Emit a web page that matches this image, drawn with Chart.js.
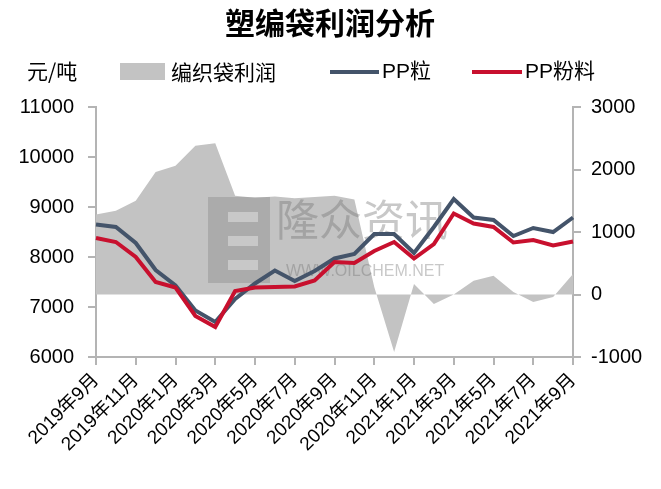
<!DOCTYPE html>
<html>
<head>
<meta charset="utf-8">
<script src="https://cdn.jsdelivr.net/npm/chart.js@4.4.0/dist/chart.umd.min.js"></script>
<style>
  html, body { margin: 0; padding: 0; background: #ffffff; }
  #box { width: 661px; height: 489px; }
</style>
</head>
<body>
<div id="box"><canvas id="chart" width="661" height="489"></canvas></div>
<script>
// Monthly categories, 2019-09 .. 2021-09
const months = [
  '2019年9月', '2019年10月', '2019年11月', '2019年12月',
  '2020年1月', '2020年2月', '2020年3月', '2020年4月',
  '2020年5月', '2020年6月', '2020年7月', '2020年8月',
  '2020年9月', '2020年10月', '2020年11月', '2020年12月',
  '2021年1月', '2021年2月', '2021年3月', '2021年4月',
  '2021年5月', '2021年6月', '2021年7月', '2021年8月',
  '2021年9月'
];

// 编织袋利润 (right axis, 元/吨)
const bagProfit = [
  1280, 1340, 1500, 1960, 2060, 2380, 2420, 1580,
  1550, 1570, 1540, 1560, 1580, 1520, 120, -920,
  170, -150, 0, 220, 300, 40, -120, -40,
  330
];

// PP粒 price (left axis, 元/吨)
const ppPellet = [
  8650, 8600, 8280, 7740, 7430, 6930, 6700, 7160,
  7470, 7730, 7520, 7720, 7970, 8060, 8460, 8460,
  8080, 8600, 9160, 8790, 8740, 8420, 8580, 8500,
  8790
];

// PP粉料 price (left axis, 元/吨)
const ppPowder = [
  8380, 8300, 8000, 7500, 7390, 6820, 6600, 7320,
  7390, 7400, 7410, 7530, 7900, 7880, 8120, 8300,
  7970, 8260, 8870, 8670, 8600, 8290, 8340, 8230,
  8310
];

// Axis ranges
const leftTicks = [6000, 7000, 8000, 9000, 10000, 11000];
const rightTicks = [-1000, 0, 1000, 2000, 3000];

const titleText = '塑编袋利润分析';
const unitText = '元/吨';

const CJK = "'Noto Sans CJK SC', sans-serif";
const NUM = "'Liberation Sans', 'Noto Sans CJK SC', sans-serif";
const AXIS_GREY = '#b4b4b4';

// Header: title, unit and legend row
const headerPlugin = {
  id: 'header',
  afterDraw(chart) {
    const ctx = chart.ctx;
    ctx.save();
    ctx.fillStyle = '#000';
    ctx.textBaseline = 'middle';
    ctx.textAlign = 'center';
    ctx.font = "bold 30px " + CJK;
    ctx.fillText(titleText, 330, 23);

    ctx.textAlign = 'left';
    ctx.font = "21px " + CJK;
    ctx.fillText(unitText, 27, 71);

    const ds = chart.data.datasets;
    const y = 72;
    // area swatch
    ctx.fillStyle = ds[0].backgroundColor;
    ctx.fillRect(120, 63, 45, 17);
    ctx.fillStyle = '#000';
    ctx.fillText(ds[0].label, 171, y);
    // line swatches
    const items = [[1, 330, 379, 382], [2, 472, 522, 525]];
    for (const [i, x0, x1, tx] of items) {
      ctx.strokeStyle = ds[i].borderColor;
      ctx.lineWidth = 4;
      ctx.beginPath();
      ctx.moveTo(x0, y);
      ctx.lineTo(x1, y);
      ctx.stroke();
      ctx.fillStyle = '#000';
      ctx.font = "21px " + NUM;
      ctx.fillText(ds[i].label, tx, y);
    }
    ctx.restore();
  }
};

// Faint publisher mark, painted over the area fill but under the price lines
const markPlugin = {
  id: 'mark',
  afterDatasetDraw(chart, args) {
    if (args.index !== 0) return;
    const ctx = chart.ctx;
    ctx.save();
    ctx.fillStyle = 'rgba(110,110,110,0.28)';
    ctx.fillRect(208, 197, 62, 86);
    ctx.fillStyle = 'rgba(255,255,255,0.35)';
    ctx.fillRect(228, 212, 30, 10);
    ctx.fillRect(228, 236, 30, 10);
    ctx.fillRect(228, 260, 30, 10);
    ctx.fillStyle = 'rgba(110,110,110,0.38)';
    ctx.textBaseline = 'middle';
    ctx.textAlign = 'left';
    ctx.font = "43px " + CJK;
    ctx.fillText('隆众资讯', 276, 220);
    ctx.font = "16px 'Liberation Sans Narrow', 'Liberation Sans', sans-serif";
    ctx.fillText('WWW.OILCHEM.NET', 286, 272);
    ctx.restore();
  }
};

const plainNumber = v => String(v);

new Chart(document.getElementById('chart'), {
  type: 'line',
  data: {
    labels: months,
    datasets: [
      {
        label: '编织袋利润',
        data: bagProfit,
        yAxisID: 'y1',
        backgroundColor: '#c3c3c3',
        borderWidth: 0,
        fill: 'origin',
        pointRadius: 0,
        tension: 0,
        order: 3
      },
      {
        label: 'PP粒',
        data: ppPellet,
        yAxisID: 'y',
        borderColor: '#44546a',
        borderWidth: 4,
        fill: false,
        pointRadius: 0,
        tension: 0,
        order: 2
      },
      {
        label: 'PP粉料',
        data: ppPowder,
        yAxisID: 'y',
        borderColor: '#c8102e',
        borderWidth: 4,
        fill: false,
        pointRadius: 0,
        tension: 0,
        order: 1
      }
    ]
  },
  options: {
    responsive: false,
    animation: false,
    devicePixelRatio: 1,
    layout: { padding: { top: 107, left: 0, right: 0, bottom: 0 } },
    plugins: {
      legend: { display: false },
      title: { display: false },
      tooltip: { enabled: false }
    },
    scales: {
      x: {
        type: 'category',
        offset: false,
        afterBuildTicks(scale) {
          scale.ticks = scale.ticks.filter((t, i) => i % 2 === 0);
        },
        afterFit(scale) { scale.height = 132; },
        grid: {
          drawOnChartArea: false,
          drawTicks: true,
          tickLength: 8,
          color: AXIS_GREY,
          lineWidth: 2
        },
        border: { display: true, color: AXIS_GREY, width: 2 },
        ticks: {
          autoSkip: false,
          maxRotation: 45,
          minRotation: 45,
          padding: 4,
          color: '#000',
          font: { family: NUM, size: 19 }
        }
      },
      y: {
        type: 'linear',
        position: 'left',
        min: leftTicks[0],
        max: leftTicks[leftTicks.length - 1],
        afterBuildTicks(scale) {
          scale.ticks = leftTicks.map(v => ({ value: v }));
        },
        afterFit(scale) { scale.width = 96; },
        grid: {
          drawOnChartArea: false,
          drawTicks: true,
          tickLength: 8,
          color: AXIS_GREY,
          lineWidth: 2
        },
        border: { display: true, color: AXIS_GREY, width: 2 },
        ticks: {
          padding: 14,
          color: '#000',
          font: { family: NUM, size: 20 },
          callback: plainNumber
        }
      },
      y1: {
        type: 'linear',
        position: 'right',
        min: rightTicks[0],
        max: rightTicks[rightTicks.length - 1],
        afterBuildTicks(scale) {
          scale.ticks = rightTicks.map(v => ({ value: v }));
        },
        afterFit(scale) { scale.width = 88; },
        grid: {
          drawOnChartArea: false,
          drawTicks: true,
          tickLength: 8,
          color: AXIS_GREY,
          lineWidth: 2
        },
        border: { display: true, color: AXIS_GREY, width: 2 },
        ticks: {
          padding: 10,
          color: '#000',
          font: { family: NUM, size: 20 },
          callback: plainNumber
        }
      }
    }
  },
  plugins: [headerPlugin, markPlugin]
});
</script>
</body>
</html>
